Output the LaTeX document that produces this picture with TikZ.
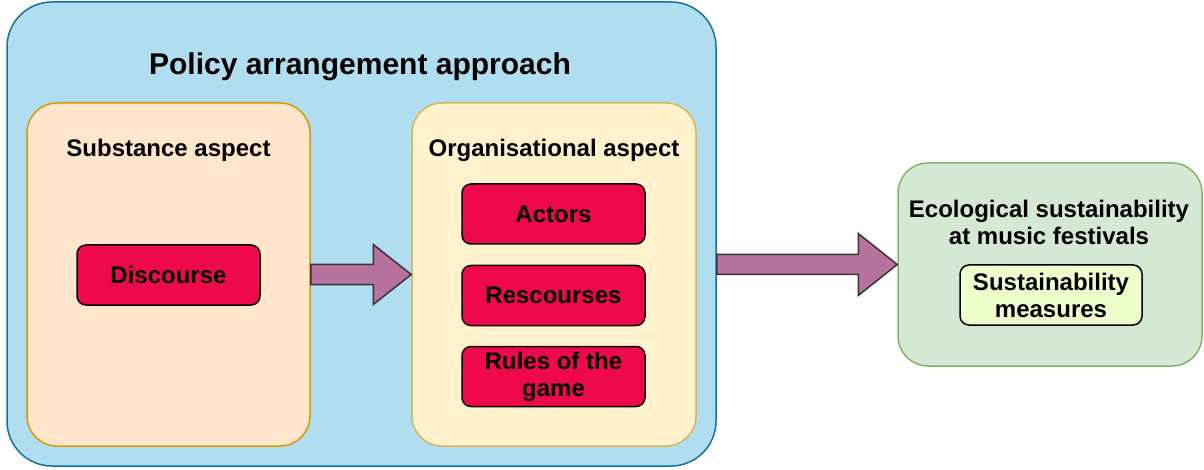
\documentclass[tikz,border=0pt]{standalone}
\usepackage{fontspec}
\setmainfont{Liberation Sans}
\usepackage{xcolor}
\usepackage{tikz}
\usetikzlibrary{calc,positioning}

\definecolor{bluefill}{HTML}{B1DDF0}
\definecolor{bluedraw}{HTML}{10739E}
\definecolor{orangefill}{HTML}{FFE6CC}
\definecolor{orangedraw}{HTML}{D79B00}
\definecolor{yellowfill}{HTML}{FFF2CC}
\definecolor{yellowdraw}{HTML}{D6B656}
\definecolor{greenfill}{HTML}{D5E8D4}
\definecolor{greendraw}{HTML}{82B366}
\definecolor{itemred}{HTML}{EE0A4A}
\definecolor{itemgreen}{HTML}{EEFFCC}
\definecolor{arrowfill}{HTML}{B5739D}
\definecolor{arrowdraw}{HTML}{3A2F36}

\begin{document}
\begin{tikzpicture}[x=1pt,y=-1pt,font=\bfseries\fontsize{24}{27}\selectfont]
  \tikzstyle{box}=[draw, rectangle, rounded corners=30pt, inner sep=0pt, line width=1.5pt]
  \tikzstyle{item}=[draw=black, fill=itemred, rectangle, rounded corners=9pt, line width=1.5pt,
                    minimum width=183pt, minimum height=60pt, inner sep=0pt, align=center]
  \tikzstyle{bigarrow}=[draw=arrowdraw, fill=arrowfill, line width=1.5pt, line join=miter]

  \useasboundingbox (0,0) rectangle (1204,470);

  % policy arrangement frame
  \node[box, fill=bluefill, draw=bluedraw, rounded corners=45pt,
        minimum width=709pt, minimum height=464pt] (pa) at (361.5, 234) {};
  \node[anchor=base, font=\bfseries\fontsize{30}{34}\selectfont] (patitle) at (360, 75) {Policy arrangement approach};

  \node[box, fill=orangefill, draw=orangedraw, minimum width=283pt, minimum height=343pt] (sub) at (168.5, 274.5) {};
  \node[anchor=base] (subtitle) at (168.5, 157) {Substance aspect};

  \node[box, fill=yellowfill, draw=yellowdraw, minimum width=284pt, minimum height=343pt] (org) at (554, 274.5) {};
  \node[anchor=base] (orgtitle) at (554, 157) {Organisational aspect};

  \node[item] (disc)  at (168.5, 275)   {Discourse};
  \node[item] (act)   at (553.5, 214)   {Actors};
  \node[item] (res)   at (553.5, 295.5) {Rescourses};
  \node[item] (rules) at (553.5, 376.5) {Rules of the\\game};

  % outcome
  \node[box, fill=greenfill, draw=greendraw, minimum width=304pt, minimum height=203pt] (eco) at (1050, 264.5) {};
  \node[align=center] (ecotitle) at (1049, 222) {Ecological sustainability\\at music festivals};
  \node[item, fill=itemgreen, minimum width=182pt] (meas) at (1051, 295) {Sustainability\\measures};

  % block arrows
  \draw[bigarrow] ($(sub.east)+(0,-10)$) -- ($(org.west)+(-38,-10)$) -- ($(org.west)+(-38,-30)$)
    -- (org.west) -- ($(org.west)+(-38,30)$) -- ($(org.west)+(-38,10)$) -- ($(sub.east)+(0,10)$) -- cycle;
  \coordinate (paout) at (pa.east |- eco.west);
  \draw[bigarrow] ($(paout)+(0,-10)$) -- ($(eco.west)+(-39,-10)$) -- ($(eco.west)+(-39,-31)$)
    -- (eco.west) -- ($(eco.west)+(-39,31)$) -- ($(eco.west)+(-39,10)$) -- ($(paout)+(0,10)$) -- cycle;
\end{tikzpicture}
\end{document}
